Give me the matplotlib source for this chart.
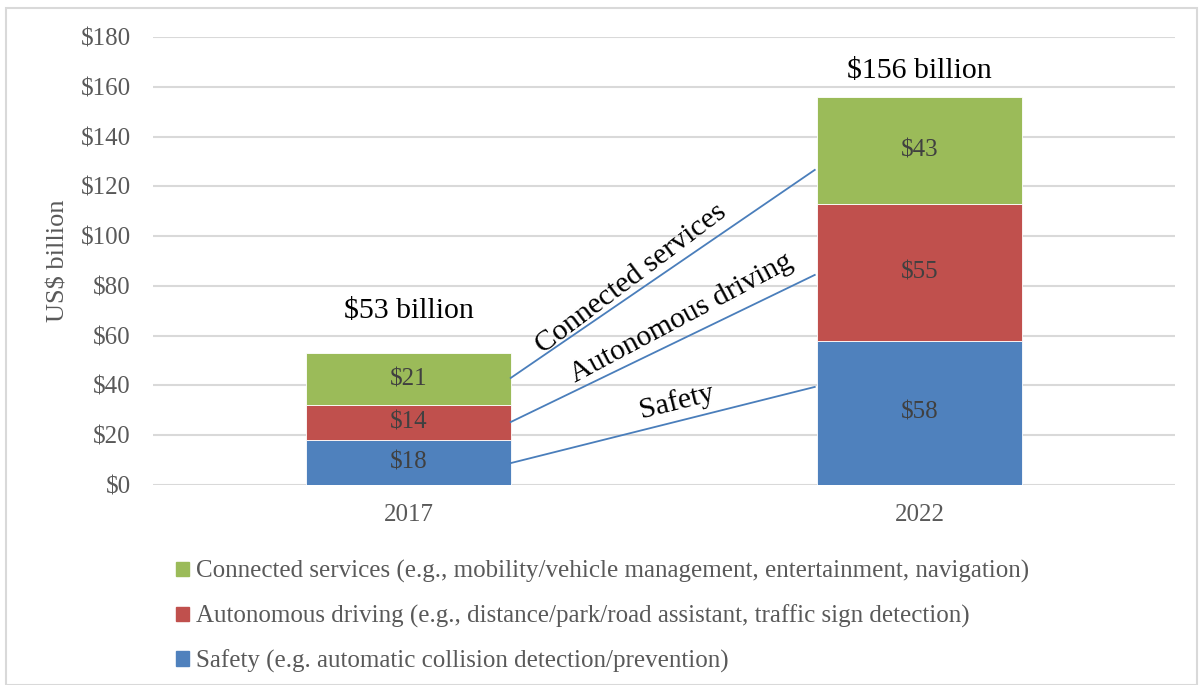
import matplotlib
matplotlib.use("Agg")
import matplotlib.pyplot as plt
from matplotlib.patches import Rectangle, Patch

years = ["2017", "2022"]
safety = [18, 58]
autonomous = [14, 55]
connected = [21, 43]
totals_text = ["$53 billion", "$156 billion"]
legend_labels = [
    "Connected services (e.g., mobility/vehicle management, entertainment, navigation)",
    "Autonomous driving (e.g., distance/park/road assistant, traffic sign detection)",
    "Safety (e.g. automatic collision detection/prevention)",
]
yticks = list(range(0, 181, 20))

C_GREEN = "#9BBB59"
C_RED = "#C0504D"
C_BLUE = "#4F81BD"
LINE = "#4A7EBB"
FONT = "Liberation Serif"

plt.rcParams["font.family"] = [FONT, "DejaVu Serif"]

fig = plt.figure(figsize=(12.02, 6.85), dpi=100)
ax = fig.add_axes([153/1202, 1-485/685, (1175-153)/1202, (485-37)/685])

x = list(range(len(years)))
w = 0.4
ax.bar(x, safety, w, color=C_BLUE, edgecolor="white", linewidth=0.6, zorder=3)
ax.bar(x, autonomous, w, bottom=safety, color=C_RED, edgecolor="white", linewidth=0.6, zorder=3)
bottom2 = [s + a for s, a in zip(safety, autonomous)]
ax.bar(x, connected, w, bottom=bottom2, color=C_GREEN, edgecolor="white", linewidth=0.6, zorder=3)

for i in x:
    base = 0
    for vals in (safety, autonomous, connected):
        ax.text(i, base + vals[i] / 2, f"${vals[i]}", ha="center", va="center",
                fontsize=18, color="#404040", zorder=4)
        base += vals[i]
    tot = safety[i] + autonomous[i] + connected[i]
    ax.text(i, tot + 17 if i == 0 else tot + 10.5, totals_text[i], ha="center", va="center",
            fontsize=21.5, color="black", zorder=4)

# connector lines
x0, x1 = 0.2, 0.795
ax.plot([x0, x1], [8.8, 39.4], color=LINE, lw=1.3, zorder=4)
ax.plot([x0, x1], [25.3, 84.4], color=LINE, lw=1.3, zorder=4)
ax.plot([x0, x1], [43.0, 126.6], color=LINE, lw=1.3, zorder=4)

ax.text(0.436, 83, "Connected services", rotation=37, rotation_mode="anchor",
        ha="center", va="center", fontsize=21.5, color="black")
ax.text(0.534, 67, "Autonomous driving", rotation=28, rotation_mode="anchor",
        ha="center", va="center", fontsize=21.5, color="black")
ax.text(0.526, 33.5, "Safety", rotation=14, rotation_mode="anchor",
        ha="center", va="center", fontsize=21.5, color="black")

ax.set_xlim(-0.5, 1.5)
ax.set_ylim(0, 180)
ax.set_yticks(yticks)
ax.set_yticklabels([f"${t}" for t in yticks])
ax.set_xticks(x)
ax.set_xticklabels(years)
ax.tick_params(axis="both", length=0, labelsize=18, labelcolor="#595959")
ax.tick_params(axis="y", pad=16)
ax.tick_params(axis="x", pad=14)
ax.grid(axis="y", color="#D9D9D9", lw=1.5, zorder=0)
for s in ax.spines.values():
    s.set_visible(False)
ax.set_ylabel("US$ billion", fontsize=19, color="#595959")
ax.yaxis.set_label_coords(-0.082, 0.5)

handles = [Patch(color=C_GREEN), Patch(color=C_RED), Patch(color=C_BLUE)]
fig.legend(handles, legend_labels, loc="upper left",
           bbox_to_anchor=(166/1202, 1-550/685), frameon=False,
           fontsize=18, labelcolor="#595959", handlelength=0.5, handleheight=0.5,
           handletextpad=0.3, labelspacing=0.86, borderaxespad=0)

fig.patches.append(Rectangle((6/1202, 0), 1191/1202, 1-8/685, transform=fig.transFigure,
                             fill=False, edgecolor="#D9D9D9", lw=1.5))

fig.savefig("out.png", dpi=100)
